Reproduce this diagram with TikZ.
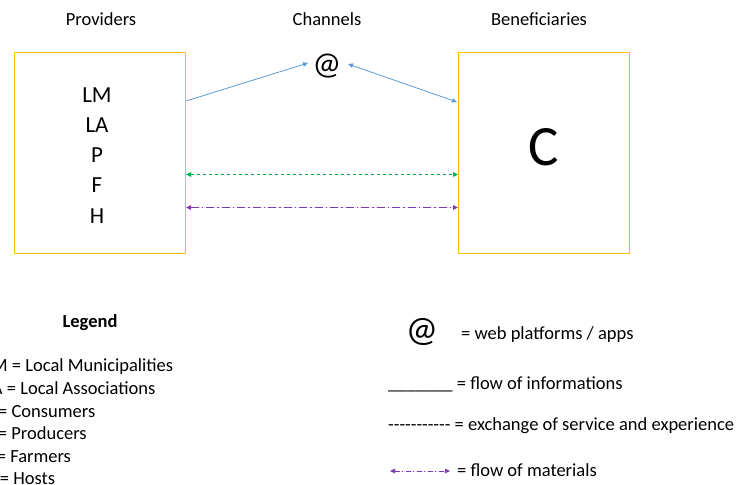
\documentclass[tikz,border=0pt]{standalone}
\usepackage{fontspec}
\setmainfont{Carlito}
\usetikzlibrary{arrows.meta,calc}
\definecolor{boxyellow}{HTML}{FFC000}
\definecolor{infoblue}{HTML}{5B9BD5}
\definecolor{servgreen}{HTML}{00B050}
\definecolor{matpurple}{HTML}{7A3CB0}
\tikzset{
  provbox/.style={draw=boxyellow, line width=0.9pt, minimum width=171pt, minimum height=201pt, inner sep=0pt, outer sep=0pt},
  titletxt/.style={font=\fontsize{18.5}{22.6}\selectfont, anchor=base, inner sep=0pt},
  boxletter/.style={font=\fontsize{23}{28}\selectfont, anchor=base, inner sep=0pt},
  legtxt/.style={font=\fontsize{18.5}{22.6}\selectfont, anchor=base west, inner sep=0pt},
  tip/.style={-{Triangle[length=5pt,width=4.5pt]}},
  dtip/.style={{Triangle[length=5pt,width=4.5pt]}-{Triangle[length=5pt,width=4.5pt]}},
  infoline/.style={draw=infoblue, line width=0.8pt},
  servline/.style={draw=servgreen, line width=0.9pt, dash pattern=on 3.5pt off 2.5pt},
  matline/.style={draw=matpurple, fill=matpurple, line width=1pt, dash pattern=on 8pt off 3pt on 1.5pt off 3pt},
}
\begin{document}
\begin{tikzpicture}[x=1pt,y=-1pt]
\useasboundingbox (0,0) rectangle (745,485);
\clip (0,0) rectangle (745,485);
\fill[white] (0,0) rectangle (745,485);

% titles
\node[titletxt] (tprov) at (101,25) {Providers};
\node[titletxt] (tchan) at (327,25) {Channels};
\node[titletxt] (tben) at (539,25) {Beneficiaries};

% boxes
\node[provbox] (prov) at (99.5,152.5) {};
\node[provbox] (ben) at (543.5,152.5) {};

% box letters
\node[boxletter] (lm) at (97,102.5) {LM};
\node[boxletter] (la) at (97,132.5) {LA};
\node[boxletter] (lp) at (97,162.5) {P};
\node[boxletter] (lf) at (97,192.5) {F};
\node[boxletter] (lh) at (97,223) {H};
\node[font=\fontsize{57}{60}\selectfont, anchor=base, inner sep=0pt] (cc) at (543.5,165.5) {C};

% channel
\node[font=\fontsize{32}{34}\selectfont, inner sep=0pt] (at) at (327,66) {@};

% connectors
\draw[infoline, tip] ($(prov.north east)+(1,49)$) -- ($(at.center)+(-19,-3)$);
\draw[infoline, dtip] ($(at.center)+(21,-2)$) -- ($(ben.north west)+(-1,50)$);
\draw[servline, dtip] ($(prov.east)+(1,22)$) -- ($(ben.west)+(0,22)$);
\draw[matline, dtip] ($(prov.east)+(1,55)$) -- ($(ben.west)+(0,55)$);

% legend left
\node[font=\bfseries\fontsize{18.5}{22.6}\selectfont, anchor=base, inner sep=0pt] (leg) at (90,327) {Legend};
\node[legtxt] (k1) at (-16,371) {LM = Local Municipalities};
\node[legtxt] (k2) at (-16,394) {LA = Local Associations};
\node[legtxt] (k3) at (-16,417) {C = Consumers};
\node[legtxt] (k4) at (-16,439.5) {P = Producers};
\node[legtxt] (k5) at (-16,462) {F = Farmers};
\node[legtxt] (k6) at (-16,484.5) {H = Hosts};

% legend right
\node[font=\fontsize{36}{38}\selectfont, inner sep=0pt] (lat) at (422,332) {@};
\node[legtxt] (r1) at (461,339) {= web platforms / apps};
\node[legtxt] (r2) at (388,389) {\_\_\_\_\_\_\_ = flow of informations};
\node[legtxt] (r3) at (388,430) {{-}{-}{-}{-}{-}{-}{-}{-}{-}{-}{-} = exchange of service and experience};
\coordinate (pa1) at (390,471);
\coordinate (pa2) at (450,471);
\draw[matline, dash pattern=on 5pt off 2.5pt on 1pt off 2.5pt, dtip] (pa1) -- (pa2);
\node[legtxt] (r4) at (457,476) {= flow of materials};
\end{tikzpicture}
\end{document}
